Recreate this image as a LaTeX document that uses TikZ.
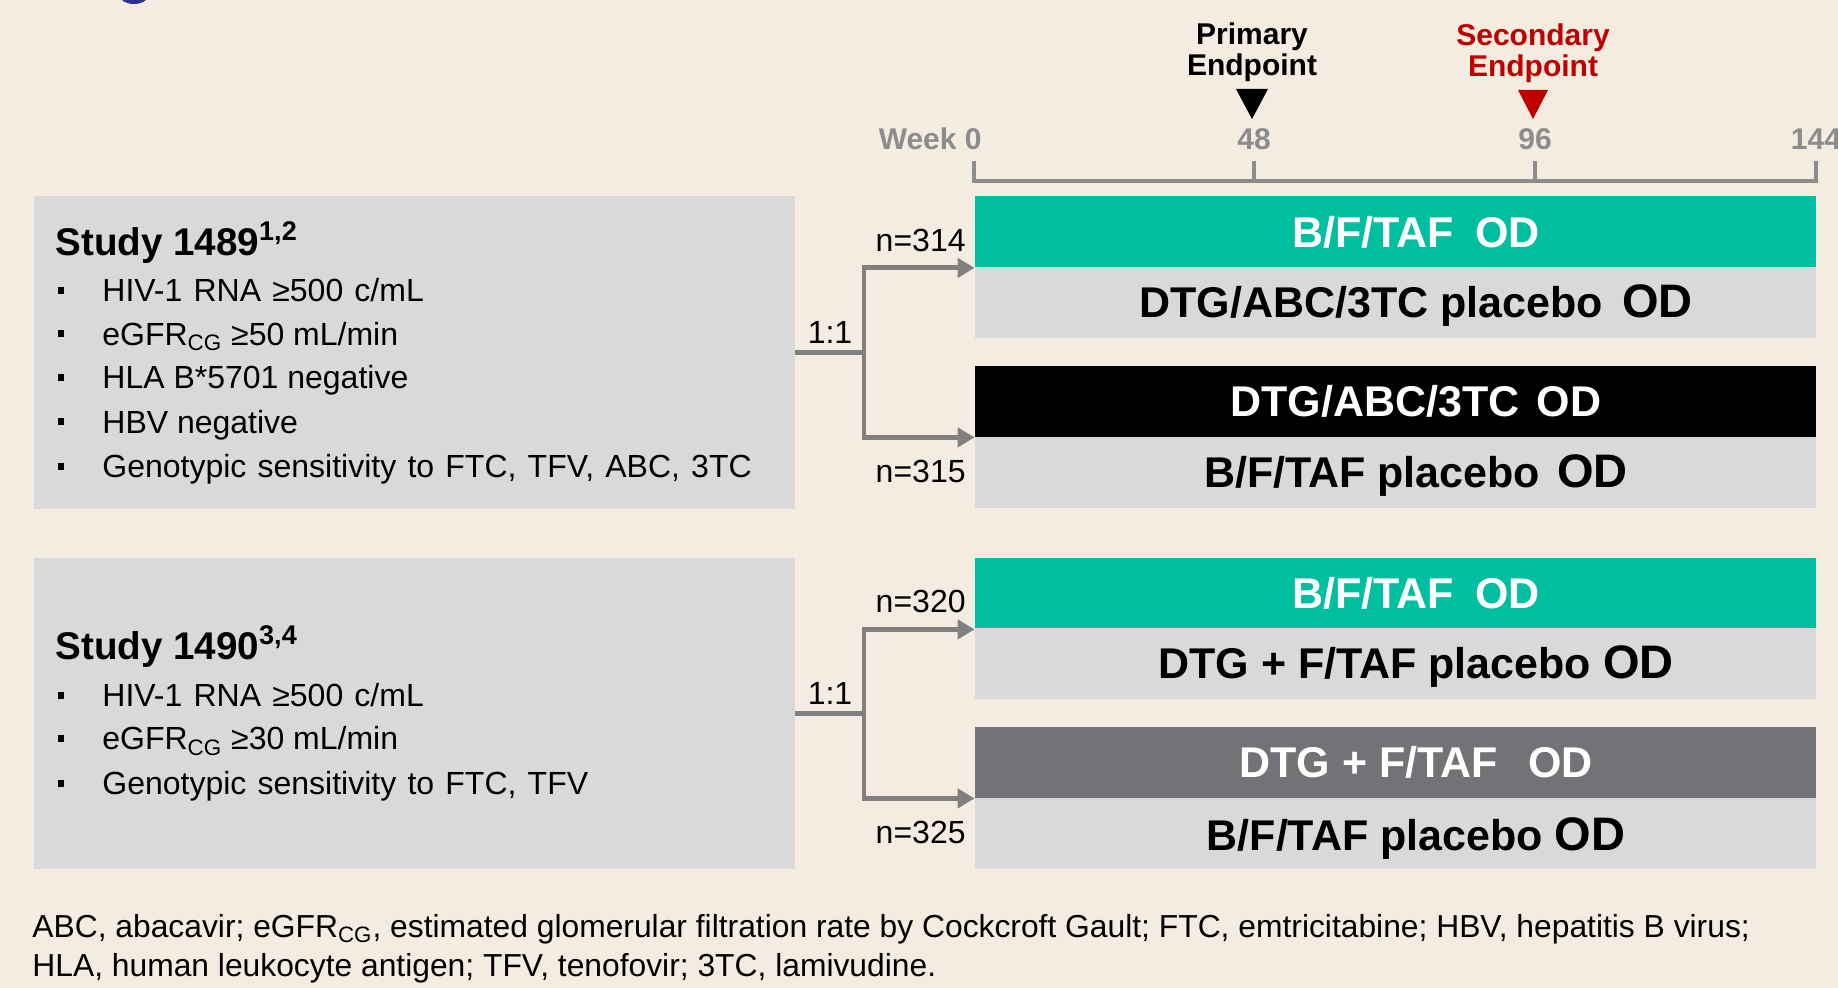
\documentclass[tikz,border=0pt]{standalone}
\usepackage{fontspec}
\setmainfont{Liberation Sans}
\usetikzlibrary{arrows.meta}

\definecolor{bg}{HTML}{F4ECE0}
\definecolor{panel}{HTML}{D9D9D9}
\definecolor{armteal}{HTML}{00BFA0}
\definecolor{armdark}{HTML}{737277}
\definecolor{axisgray}{HTML}{8C8C8C}
\definecolor{linkgray}{HTML}{808080}
\definecolor{endred}{HTML}{C00000}
\definecolor{titleblue}{HTML}{2E3192}

% bullet line: small square bullet, then the text
\newcommand{\bul}[1]{\makebox[22pt][l]{\rule[4pt]{3pt}{3.5pt}}#1}
% same, with slightly wider word spaces
\newcommand{\bulw}[1]{\makebox[22pt][l]{\rule[4pt]{3pt}{3.5pt}}{\spaceskip=5.6pt\relax #1}}
\newcommand{\bigod}{{\fontsize{23.5}{24}\selectfont OD}}

\tikzset{
  panelbox/.style={fill=panel, draw=none, minimum width=380.5pt, inner sep=0pt},
  armbox/.style={draw=none, minimum width=420.5pt, minimum height=35.5pt, inner sep=0pt},
  armtext/.style={anchor=base, inner sep=0pt, font=\bfseries\fontsize{21.5}{22}\selectfont},
  paneltitle/.style={anchor=base west, inner sep=0pt, font=\bfseries\fontsize{19.3}{20}\selectfont},
  itemtext/.style={anchor=base west, inner sep=0pt, font=\fontsize{16}{18}\selectfont},
  smalllabel/.style={inner sep=0pt, font=\fontsize{16}{18}\selectfont},
  weeklabel/.style={anchor=base, inner sep=0pt, text=axisgray, font=\bfseries\fontsize{15}{16}\selectfont},
  endlabel/.style={align=center, inner sep=0pt, font=\bfseries\fontsize{15}{15.5}\selectfont},
  link/.style={draw=linkgray, line width=2.4pt},
  linkarrow/.style={link, -{Triangle[length=8.5pt, width=9.5pt]}},
  axis/.style={draw=axisgray, line width=2.4pt},
}

\begin{document}
\begin{tikzpicture}[x=0.5pt, y=-0.5pt]
\useasboundingbox[fill=bg] (0,0) rectangle (1838,988);

% edge of the heading lettering above the chart
\begin{scope}
  \clip (0,0) rectangle (1838,988);
  \fill[titleblue] (134,-4) ellipse [x radius=14, y radius=8];
\end{scope}

% ---------- timeline ----------
\coordinate (w0) at (974,181);
\coordinate (w48) at (1254,181);
\coordinate (w96) at (1535,181);
\coordinate (w144) at (1816,181);
\draw[axis] (974,161) -- (w0) -- (w144) -- (1816,161);
\draw[axis] (w48) -- (1254,161);
\draw[axis] (w96) -- (1535,161);

\node[weeklabel, anchor=base east] (lw0) at (982,150) {Week 0};
\node[weeklabel] (lw48) at (1254,150) {48};
\node[weeklabel] (lw96) at (1535,150) {96};
\node[weeklabel] (lw144) at (1816,150) {144};

\node[endlabel] (prim) at (1252,52) {Primary\\Endpoint};
\node[endlabel, text=endred] (sec) at (1533,53) {Secondary\\Endpoint};
\fill (1236,89) -- (1268,89) -- (1252,119) -- cycle;
\fill[endred] (1518,90) -- (1548,90) -- (1533,119) -- cycle;

% ---------- study panels ----------
\node[panelbox, minimum height=156.5pt] (p1) at (414.5,352.5) {};
\node[paneltitle] (t1) at (55,256) {Study 1489\textsuperscript{1,2}};
\node[itemtext] (i11) at (58,302) {\bulw{HIV-1 RNA ≥500 c/mL}};
\node[itemtext] (i12) at (58,345.5) {\bul{eGFR\textsubscript{CG} ≥50 mL/min}};
\node[itemtext] (i13) at (58,389) {\bul{HLA B*5701 negative}};
\node[itemtext] (i14) at (58,433.5) {\bul{HBV negative}};
\node[itemtext] (i15) at (58,478) {\bulw{Genotypic sensitivity to FTC, TFV, ABC, 3TC}};

\node[panelbox, minimum height=155.5pt] (p2) at (414.5,713.5) {};
\node[paneltitle] (t2) at (55,660) {Study 1490\textsuperscript{3,4}};
\node[itemtext] (i21) at (58,707) {\bulw{HIV-1 RNA ≥500 c/mL}};
\node[itemtext] (i22) at (58,750) {\bul{eGFR\textsubscript{CG} ≥30 mL/min}};
\node[itemtext] (i23) at (58,795) {\bulw{Genotypic sensitivity to FTC, TFV}};

% ---------- treatment arms ----------
\node[armbox, fill=armteal] (a1) at (1395.5,232) {};
\node[armbox, fill=panel]   (a1p) at (1395.5,302.5) {};
\node[armbox, fill=black]   (b1) at (1395.5,401.5) {};
\node[armbox, fill=panel]   (b1p) at (1395.5,472.5) {};
\node[armtext, text=white] at (1416,248) {B/F/TAF\hspace{0.5em}OD};
\node[armtext] at (1416,318) {DTG/ABC/3TC placebo\hspace{0.45em}\bigod};
\node[armtext, text=white] at (1416,417) {DTG/ABC/3TC\hspace{0.4em}OD};
\node[armtext] at (1416,488) {B/F/TAF placebo\hspace{0.4em}\bigod};

\node[armbox, fill=armteal] (a2) at (1395.5,593.5) {};
\node[armbox, fill=panel]   (a2p) at (1395.5,663.5) {};
\node[armbox, fill=armdark] (b2) at (1395.5,762.5) {};
\node[armbox, fill=panel]   (b2p) at (1395.5,834) {};
\node[armtext, text=white] at (1416,609) {B/F/TAF\hspace{0.5em}OD};
\node[armtext] at (1416,679) {DTG + F/TAF placebo \bigod};
\node[armtext, text=white] at (1416,778) {DTG + F/TAF\hspace{0.7em}OD};
\node[armtext] at (1416,850) {B/F/TAF placebo \bigod};

% ---------- randomisation brackets ----------
\coordinate (s1) at (864,352.5);
\draw[link] (p1.east) -- (s1);
\draw[linkarrow] (s1) |- (a1.south west);
\draw[linkarrow] (s1) |- (b1.south west);
\node[smalllabel] (r1) at (830,332) {1:1};
\node[smalllabel, anchor=east] (n314) at (966,240) {n=314};
\node[smalllabel, anchor=east] (n315) at (966,471) {n=315};

\coordinate (s2) at (864,713.5);
\draw[link] (p2.east) -- (s2);
\draw[linkarrow] (s2) |- (a2.south west);
\draw[linkarrow] (s2) |- (b2.south west);
\node[smalllabel] (r2) at (830,693) {1:1};
\node[smalllabel, anchor=east] (n320) at (966,601) {n=320};
\node[smalllabel, anchor=east] (n325) at (966,832) {n=325};

% ---------- abbreviations ----------
\node[anchor=base west, inner sep=0pt, align=left, font=\fontsize{15.9}{19.5}\selectfont] (abbr) at (32,976)
  {ABC, abacavir; eGFR\textsubscript{CG}, estimated glomerular filtration rate by Cockcroft Gault; FTC, emtricitabine; HBV, hepatitis B virus;\\
   HLA, human leukocyte antigen; TFV, tenofovir; 3TC, lamivudine.};
\end{tikzpicture}
\end{document}
